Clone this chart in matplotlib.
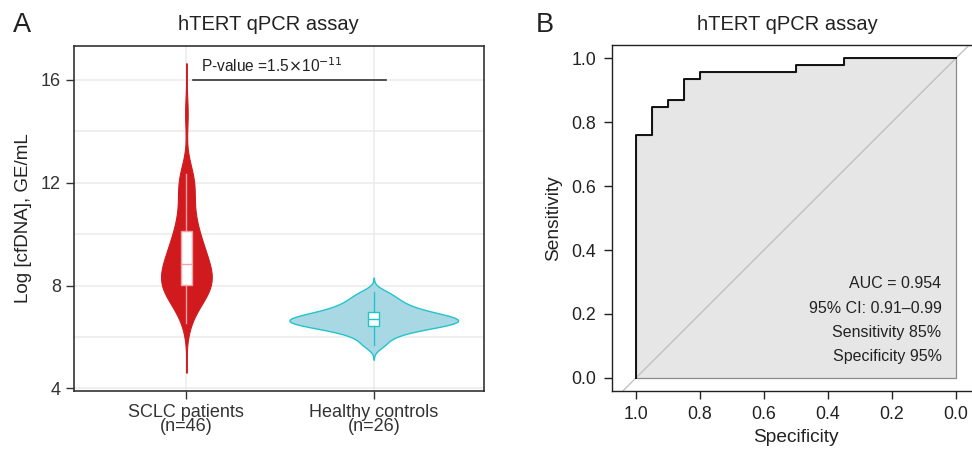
import numpy as np
import matplotlib
matplotlib.use("Agg")
import matplotlib.pyplot as plt

plt.rcParams['font.family'] = ['Liberation Sans', 'DejaVu Sans']

sclc = [6.56, 6.95, 7.2, 7.38, 7.5, 7.6, 7.68, 7.75, 7.82, 7.88, 7.94, 8.0,
        8.06, 8.12, 8.18, 8.25, 8.32, 8.4, 8.48, 8.56, 8.64, 8.72, 8.80,
        8.88, 8.97, 9.06, 9.16, 9.27, 9.38, 9.5, 9.62, 9.75, 9.88, 10.0,
        10.14, 10.35, 10.6, 10.85, 11.1, 11.4, 11.7, 11.95, 12.15, 12.25, 12.35, 14.7]
healthy = [5.68, 5.95, 6.12, 6.24, 6.32, 6.38, 6.43, 6.48, 6.52, 6.56, 6.6, 6.63, 6.66,
           6.7, 6.74, 6.78, 6.83, 6.88, 6.94, 7.0, 7.08, 7.17, 7.28, 7.4, 7.55, 7.74]
groups = ['SCLC patients\n(n=46)', 'Healthy controls\n(n=26)']
p_label = r'P-value =1.5$\times$10$^{-11}$'

# --- panel B data (ROC steps)
spec = [1.0, 1.0, 0.95, 0.95, 0.90, 0.90, 0.85, 0.85, 0.80, 0.80, 0.50, 0.50, 0.35, 0.35, 0.0]
sens = [0.0, 0.761, 0.761, 0.848, 0.848, 0.870, 0.870, 0.935, 0.935, 0.957, 0.957, 0.978, 0.978, 1.0, 1.0]
roc_text = ['AUC = 0.954', '95% CI: 0.91\u20130.99', 'Sensitivity 85%', 'Specificity 95%']

W, H = 972, 451
fig = plt.figure(figsize=(W / 100, H / 100), dpi=100)


def kde(vals, grid):
    v = np.asarray(vals)
    q75, q25 = np.percentile(v, [75, 25])
    bw = 0.9 * min(v.std(ddof=1), (q75 - q25) / 1.34) * len(v) ** -0.2
    d = np.exp(-0.5 * ((grid[:, None] - v[None, :]) / bw) ** 2).sum(axis=1)
    return d / (len(v) * bw * np.sqrt(2 * np.pi)), bw


# ---------------- panel A ----------------
axA = fig.add_axes([74 / W, 1 - 390.7 / H, 410.3 / W, 344.4 / H])
axA.set_xlim(0.4, 2.59)
axA.set_ylim(3.907, 17.31)
axA.set_yticks([4, 8, 12, 16])
axA.set_yticks([6, 10, 14], minor=True)
axA.set_xticks([1, 2])
axA.set_xticklabels(groups, linespacing=0.8)
axA.grid(True, which='both', color='#ebebeb', lw=1.1, zorder=0)
axA.set_axisbelow(True)
for s in axA.spines.values():
    s.set_color('#333333')
    s.set_linewidth(1.2)
axA.tick_params(axis='both', which='major', length=5.5, width=1, color='#333333',
                labelsize=13, labelcolor='#333333', pad=4)
axA.tick_params(axis='y', which='minor', length=0)
axA.set_ylabel('Log [cfDNA], GE/mL', fontsize=13.5, color='#222222', labelpad=6)

datasets = [sclc, healthy]
fills = ['#d01a1e', '#a8d8e3']
edges = ['#d01a1e', '#22c4cc']
profiles = []
for vals in datasets:
    lo, hi = min(vals), max(vals)
    _, bw = kde(vals, np.array([lo]))
    grid = np.linspace(lo - 3 * bw, hi + 3 * bw, 600)
    d, _ = kde(vals, grid)
    profiles.append((grid, d))
dmax = max(p[1].max() for p in profiles)
for i, (grid, d) in enumerate(profiles):
    w = 0.45 * d / dmax
    axA.fill_betweenx(grid, i + 1 - w, i + 1 + w, facecolor=fills[i],
                      edgecolor=edges[i], lw=0.8 if i == 0 else 1.0, zorder=2)

box_cols = ['#f3a3a3', '#22c4cc']
for i, vals in enumerate(datasets):
    c = box_cols[i]
    axA.boxplot([vals], positions=[i + 1], widths=0.058, patch_artist=True,
                showfliers=False, showcaps=False, manage_ticks=False,
                boxprops=dict(facecolor='white', edgecolor=c, lw=1.0),
                medianprops=dict(color=c, lw=1.0),
                whiskerprops=dict(color=c, lw=1.0), zorder=3)

axA.plot([1.035, 2.065], [16.0, 16.0], color='#333333', lw=1.2, zorder=4)
axA.text(1.08, 16.2, p_label, fontsize=11.2, color='#222222', va='bottom', ha='left')

# ---------------- panel B ----------------
axB = fig.add_axes([611.7 / W, 1 - 390.7 / H, 368.5 / W, 345.3 / H])
axB.set_xlim(1.0758, -0.0758)
axB.set_ylim(-0.04, 1.04)
axB.set_xticks([1.0, 0.8, 0.6, 0.4, 0.2, 0.0])
axB.set_yticks([0.0, 0.2, 0.4, 0.6, 0.8, 1.0])
axB.xaxis.set_major_formatter(matplotlib.ticker.FormatStrFormatter('%.1f'))
axB.yaxis.set_major_formatter(matplotlib.ticker.FormatStrFormatter('%.1f'))
axB.tick_params(axis='both', length=6, width=1, color='#222222', labelsize=12.8,
                labelcolor='#222222', pad=5)
for s in axB.spines.values():
    s.set_color('#222222')
    s.set_linewidth(1.0)

poly_x = [0.0] + spec + [0.0]
poly_y = [0.0] + sens + [0.0]
axB.fill(poly_x, poly_y, facecolor='#e6e6e6', edgecolor='#8a8a8a', lw=0.9, zorder=1)
axB.axline((1, 0), (0, 1), color='#bdbdbd', lw=0.9, zorder=2)
axB.plot(spec, sens, color='#111111', lw=1.4, zorder=3)

for k, t in enumerate(roc_text):
    axB.text(0.045, 0.294 - k * 0.0755, t, fontsize=11.5, color='#222222',
             ha='right', va='center', zorder=4)
axB.set_xlabel('Specificity', fontsize=13.8, color='#222222', labelpad=4)
axB.set_ylabel('Sensitivity', fontsize=13.8, color='#222222', labelpad=7)

# titles and panel letters
fig.text(268 / W, 1 - 29.5 / H, 'hTERT qPCR assay', fontsize=14.5, ha='center',
         va='baseline', color='#222222')
fig.text(787 / W, 1 - 29.5 / H, 'hTERT qPCR assay', fontsize=14.5, ha='center',
         va='baseline', color='#222222')
fig.text(13 / W, 1 - 31.7 / H, 'A', fontsize=19.5, ha='left', va='baseline', color='#222222')
fig.text(536 / W, 1 - 31.7 / H, 'B', fontsize=19.5, ha='left', va='baseline', color='#222222')

fig.savefig('out.png', dpi=100)
